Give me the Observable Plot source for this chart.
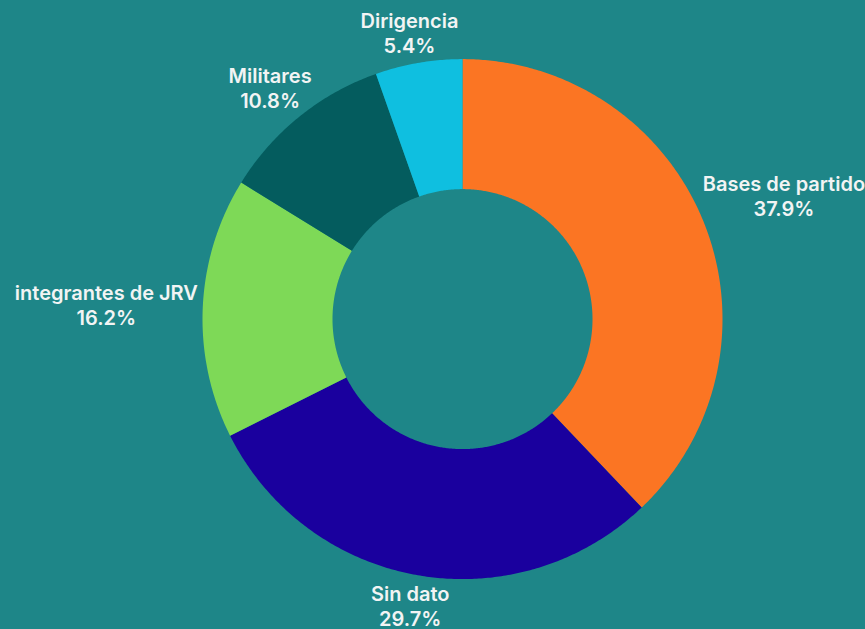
<!DOCTYPE html>
<html>
<head>
<meta charset="utf-8">
<script src="https://cdn.jsdelivr.net/npm/d3@7"></script>
<script src="https://cdn.jsdelivr.net/npm/@observablehq/plot@0.6"></script>
<style>
  html, body { margin: 0; padding: 0; background: #1e8688; }
  #chart { width: 865px; height: 629px; }
</style>
</head>
<body>
<div id="chart"></div>
<script>
// ---- data ----
const categories = ["Bases de partido", "Sin dato", "integrantes de JRV", "Militares", "Dirigencia"];
const values = [37.9, 29.7, 16.2, 10.8, 5.4];
const colors = ["#fb7523", "#1a009e", "#7ed957", "#045c5e", "#0fbfe0"];

// ---- layout ----
const W = 865, H = 629;
const cx = 462, cy = 318.6, R = 260;   // pixels
const innerRatio = 0.5;
const fontSize = 20, lineH = 25;
const font = `600 ${fontSize}px Inter`;

// geometry in data units (outer radius = 1), angle clockwise from top
const total = d3.sum(values);
let acc = 0;
const slices = categories.map((c, i) => {
  const a0 = acc / total * 2 * Math.PI;
  acc += values[i];
  const a1 = acc / total * 2 * Math.PI;
  return {cat: c, value: values[i], a0, a1, mid: (a0 + a1) / 2};
});

const pts = [];
for (const s of slices) {
  const n = Math.max(2, Math.ceil((s.a1 - s.a0) / (Math.PI / 360)));
  for (let k = 0; k <= n; k++) {
    const a = s.a0 + (s.a1 - s.a0) * k / n;
    pts.push({cat: s.cat, x: Math.sin(a), y: Math.cos(a)});
  }
  for (let k = n; k >= 0; k--) {
    const a = s.a0 + (s.a1 - s.a0) * k / n;
    pts.push({cat: s.cat, x: innerRatio * Math.sin(a), y: innerRatio * Math.cos(a)});
  }
}

// label placement: anchor just outside the ring, box pushed outward
const ctx = document.createElement("canvas").getContext("2d");
ctx.font = font;
const labelPad = 5 / R;
const labels = slices.map(s => {
  const l2 = s.value.toFixed(1) + "%";
  const w = Math.max(ctx.measureText(s.cat).width, ctx.measureText(l2).width);
  const h = 2 * lineH;
  const sn = Math.sin(s.mid), cs = Math.cos(s.mid);
  const r = 1 + labelPad;
  const dx = sn * w / 2;
  const dy = -Math.sign(cs) * Math.min(1, Math.abs(cs) * 3) * h / 2;
  return {text: s.cat + "\n" + l2, x: r * sn, y: r * cs, dx, dy};
});

const chart = Plot.plot({
  width: W,
  height: H,
  margin: 0,
  style: {background: "#1e8688", overflow: "visible"},
  x: {domain: [-cx / R, (W - cx) / R], axis: null},
  y: {domain: [-(H - cy) / R, cy / R], axis: null},
  color: {domain: categories, range: colors},
  marks: [
    Plot.line(pts, {x: "x", y: "y", z: "cat", fill: "cat", stroke: "none", curve: "linear-closed"}),
    ...labels.map(l => Plot.text([l], {
      x: "x", y: "y", text: "text",
      dx: l.dx, dy: l.dy,
      fill: "#f2f4f4",
      fontSize: fontSize,
      fontWeight: 600,
      fontFamily: "Inter",
      lineHeight: lineH / fontSize,
      textAnchor: "middle"
    }))
  ]
});
document.getElementById("chart").appendChild(chart);
</script>
</body>
</html>
